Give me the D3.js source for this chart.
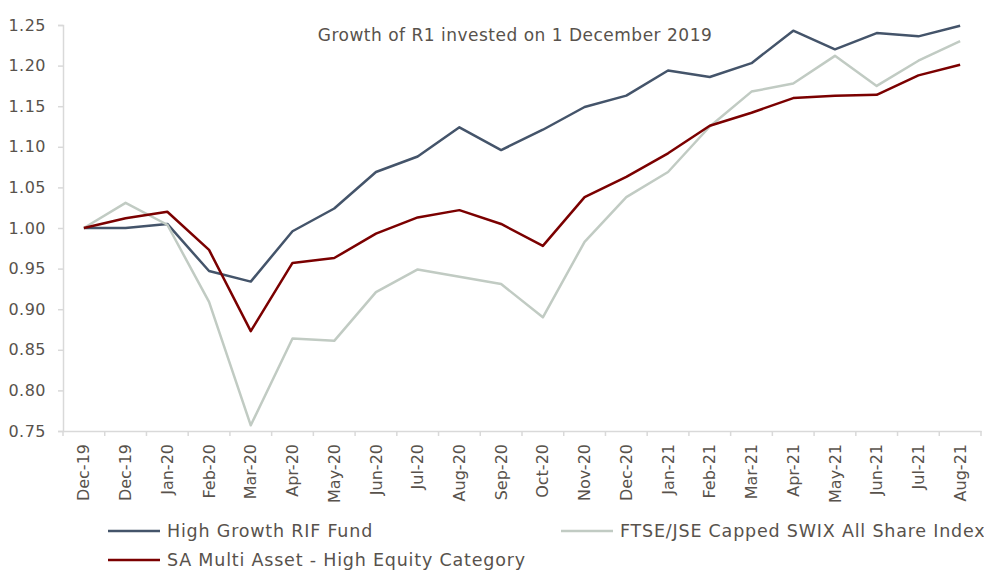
<!DOCTYPE html>
<html><head><meta charset="utf-8">
<script src="https://cdn.jsdelivr.net/npm/d3@7"></script>
<style>body{margin:0;background:#fff;} text{font-family:"DejaVu Sans",sans-serif;}</style>
</head><body><svg id="c" width="984" height="570"></svg>
<script>
const categories = ["Dec-19","Dec-19","Jan-20","Feb-20","Mar-20","Apr-20","May-20","Jun-20","Jul-20","Aug-20","Sep-20","Oct-20","Nov-20","Dec-20","Jan-21","Feb-21","Mar-21","Apr-21","May-21","Jun-21","Jul-21","Aug-21"];
const highGrowth = [1.000,1.000,1.005,0.947,0.934,0.996,1.024,1.069,1.088,1.124,1.096,1.121,1.149,1.163,1.194,1.186,1.203,1.243,1.220,1.240,1.236,1.249];
const swix = [1.000,1.031,1.004,0.909,0.757,0.864,0.861,0.921,0.949,0.940,0.931,0.890,0.983,1.038,1.069,1.125,1.168,1.178,1.212,1.175,1.206,1.230];
const multiAsset = [1.000,1.012,1.020,0.973,0.873,0.957,0.963,0.993,1.013,1.022,1.005,0.978,1.038,1.063,1.092,1.126,1.142,1.160,1.163,1.164,1.188,1.201];
const yTicks = [0.75,0.80,0.85,0.90,0.95,1.00,1.05,1.10,1.15,1.20,1.25];
const seriesNames = ["High Growth RIF Fund","FTSE/JSE Capped SWIX All Share Index","SA Multi Asset - High Equity Category"];
const colors = ["#44546a","#c1cbc3","#7b0000"];

(function(){
const svg = d3.select("#c");
const mLeft = 63, mRight = 981, mTop = 25, mBottom = 431;
const x = d3.scaleBand().domain(d3.range(categories.length)).range([mLeft, mRight]);
const y = d3.scaleLinear().domain([0.75, 1.25]).range([mBottom, mTop]);
const txt = "#58524c";
const ff = '"DejaVu Sans",sans-serif';

const ya = svg.append("g").attr("transform", `translate(${mLeft},0)`)
  .call(d3.axisLeft(y).tickValues(yTicks).tickFormat(d3.format(".2f")).tickSize(5).tickPadding(12));
ya.select(".domain").attr("stroke", "#d9d9d9").attr("stroke-width", 1.5);
ya.selectAll(".tick line").attr("stroke", "#d9d9d9").attr("stroke-width", 1.5);
ya.selectAll(".tick text").attr("fill", txt).style("font-size", "16px").style("font-family", ff)
  .style("letter-spacing", "0.5px");

const xa = svg.append("g").attr("transform", `translate(0,${mBottom})`)
  .call(d3.axisBottom(x).tickFormat(i => categories[i]).tickSize(0).tickPadding(0));
xa.select(".domain").attr("stroke", "#d9d9d9").attr("stroke-width", 1.5);
xa.selectAll(".tick text").attr("fill", txt).style("font-size", "16px").style("font-family", ff)
  .attr("transform", "rotate(-90)").attr("text-anchor", "end").attr("x", -13).attr("y", 0).attr("dy", "0.35em");
const edges = d3.range(categories.length + 1).map(i => mLeft + i * x.step());
xa.selectAll(".edge").data(edges).join("line").attr("class", "edge")
  .attr("x1", d => d).attr("x2", d => d).attr("y1", 0).attr("y2", 5)
  .attr("stroke", "#d9d9d9").attr("stroke-width", 1.5);

const line = d3.line().x((d, i) => x(i) + x.bandwidth() / 2).y(d => y(d));
[highGrowth, swix, multiAsset].forEach((s, k) => {
  svg.append("path").datum(s).attr("d", line).attr("fill", "none")
    .attr("stroke", colors[k]).attr("stroke-width", 2.5).attr("stroke-linejoin", "round");
});

svg.append("text").attr("x", 515).attr("y", 41).attr("text-anchor", "middle")
  .attr("fill", txt).style("font-size", "17px").style("letter-spacing", "0.5px")
  .text("Growth of R1 invested on 1 December 2019");

const leg = [
  {name: seriesNames[0], c: colors[0], x: 108, y: 531},
  {name: seriesNames[1], c: colors[1], x: 561, y: 531},
  {name: seriesNames[2], c: colors[2], x: 108, y: 560}
];
leg.forEach(l => {
  svg.append("line").attr("x1", l.x).attr("x2", l.x + 52).attr("y1", l.y).attr("y2", l.y)
    .attr("stroke", l.c).attr("stroke-width", 2.5);
  svg.append("text").attr("x", l.x + 59).attr("y", l.y).attr("dy", "0.35em")
    .attr("fill", txt).style("font-size", "17.5px").style("letter-spacing", "0.8px").text(l.name);
});
})();
</script></body></html>
